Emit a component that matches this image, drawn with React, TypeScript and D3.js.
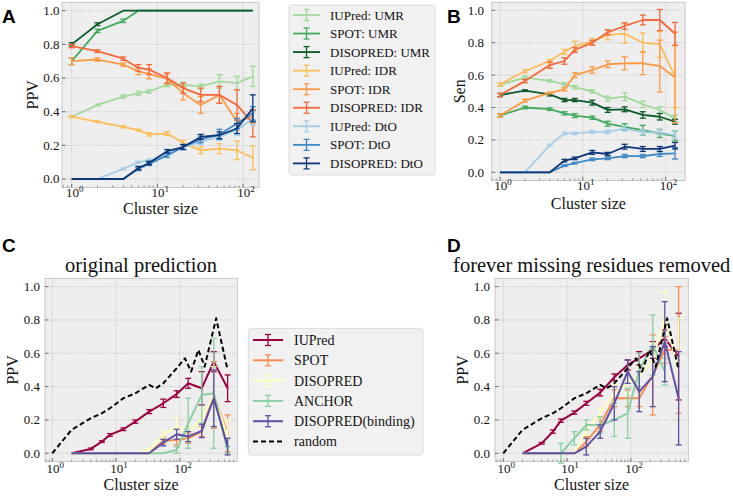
import React from 'react';
import * as d3 from 'd3';

// cluster sizes for panels A and B
const sizesAB = [1, 2, 4, 6, 8, 13, 20, 32, 53, 85, 130];

// panel A: PPV
const ppvIUPredUMR = [0.37, 0.44, 0.49, 0.51, 0.52, 0.56, 0.56, 0.55, 0.58, 0.57, 0.61];
const ppvIUPredUMRErr = [0.005, 0.005, 0.01, 0.012, 0.01, 0.012, 0.015, 0.015, 0.04, 0.04, 0.06];
const ppvSpotUMR = [0.70, 0.88, 0.94, 1, 1, 1, 1, 1, 1, 1, 1];
const ppvSpotUMRErr = [0.02, 0.01, 0.01, 0, 0, 0, 0, 0, 0, 0, 0];
const ppvDisoUMR = [0.80, 0.92, 1, 1, 1, 1, 1, 1, 1, 1, 1];
const ppvDisoUMRErr = [0.01, 0.008, 0, 0, 0, 0, 0, 0, 0, 0, 0];
const ppvIUPredIDR = [0.37, 0.34, 0.31, 0.29, 0.265, 0.27, 0.215, 0.17, 0.18, 0.17, 0.125];
const ppvIUPredIDRErr = [0.005, 0.005, 0.006, 0.006, 0.01, 0.012, 0.015, 0.02, 0.03, 0.055, 0.07];
const ppvSpotIDR = [0.70, 0.71, 0.68, 0.64, 0.625, 0.595, 0.51, 0.44, 0.50, 0.34, 0.37];
const ppvSpotIDRErr = [0.02, 0.01, 0.01, 0.02, 0.03, 0.03, 0.04, 0.05, 0.05, 0.05, 0.04];
const ppvDisoIDR = [0.79, 0.76, 0.715, 0.66, 0.65, 0.60, 0.54, 0.50, 0.50, 0.44, 0.33];
const ppvDisoIDRErr = [0.01, 0.008, 0.01, 0.02, 0.03, 0.03, 0.03, 0.04, 0.05, 0.09, 0.08];
const ppvIUPredDtO = [0, 0, 0.06, 0.10, 0.11, 0.15, 0.19, 0.22, 0.25, 0.29, 0.36];
const ppvIUPredDtOErr = [0, 0, 0.005, 0.005, 0.008, 0.01, 0.012, 0.015, 0.02, 0.03, 0.04];
const ppvSpotDtO = [0, 0, 0, 0.06, 0.09, 0.14, 0.19, 0.235, 0.265, 0.33, 0.39];
const ppvSpotDtOErr = [0, 0, 0, 0.01, 0.01, 0.012, 0.015, 0.02, 0.03, 0.03, 0.04];
const ppvDisoDtO = [0, 0, 0, 0.065, 0.095, 0.165, 0.19, 0.25, 0.26, 0.30, 0.42];
const ppvDisoDtOErr = [0, 0, 0, 0.01, 0.01, 0.01, 0.015, 0.015, 0.02, 0.03, 0.08];

// panel B: sensitivity
const senIUPredUMR = [0.54, 0.585, 0.565, 0.543, 0.525, 0.50, 0.455, 0.467, 0.42, 0.385, 0.333];
const senIUPredUMRErr = [0.01, 0.01, 0.008, 0.01, 0.012, 0.01, 0.015, 0.025, 0.02, 0.02, 0.02];
const senSpotUMR = [0.35, 0.40, 0.39, 0.364, 0.35, 0.337, 0.30, 0.28, 0.26, 0.24, 0.224];
const senSpotUMRErr = [0.01, 0.008, 0.008, 0.01, 0.012, 0.01, 0.015, 0.02, 0.03, 0.025, 0.03];
const senDisoUMR = [0.477, 0.504, 0.481, 0.446, 0.446, 0.43, 0.385, 0.389, 0.354, 0.343, 0.312];
const senDisoUMRErr = [0.01, 0.005, 0.01, 0.01, 0.01, 0.015, 0.015, 0.015, 0.02, 0.02, 0.015];
const senIUPredIDR = [0.543, 0.625, 0.687, 0.744, 0.78, 0.806, 0.848, 0.856, 0.80, 0.79, 0.59];
const senIUPredIDRErr = [0.01, 0.01, 0.01, 0.015, 0.03, 0.02, 0.03, 0.06, 0.06, 0.08, 0.19];
const senSpotIDR = [0.35, 0.442, 0.49, 0.512, 0.60, 0.631, 0.667, 0.673, 0.673, 0.656, 0.585];
const senSpotIDRErr = [0.01, 0.01, 0.005, 0.01, 0.015, 0.02, 0.02, 0.04, 0.07, 0.16, 0.28];
const senDisoIDR = [0.477, 0.563, 0.662, 0.687, 0.755, 0.80, 0.864, 0.903, 0.94, 0.94, 0.855];
const senDisoIDRErr = [0.01, 0.01, 0.02, 0.02, 0.015, 0.015, 0.015, 0.02, 0.03, 0.065, 0.07];
const senIUPredDtO = [0, 0, 0.168, 0.24, 0.24, 0.25, 0.25, 0.27, 0.247, 0.247, 0.23];
const senIUPredDtOErr = [0, 0, 0.005, 0.008, 0.008, 0.008, 0.01, 0.015, 0.015, 0.015, 0.02];
const senSpotDtO = [0, 0, 0, 0.041, 0.056, 0.08, 0.086, 0.10, 0.10, 0.113, 0.117];
const senSpotDtOErr = [0, 0, 0, 0.005, 0.005, 0.008, 0.008, 0.01, 0.01, 0.015, 0.035];
const senDisoDtO = [0, 0, 0, 0.072, 0.086, 0.123, 0.113, 0.158, 0.144, 0.144, 0.164];
const senDisoDtOErr = [0, 0, 0, 0.008, 0.008, 0.012, 0.01, 0.015, 0.015, 0.015, 0.02];

// cluster sizes for panels C and D
const sizesCD = [2, 4, 6, 8, 13, 20, 33, 55, 89, 135, 220, 340, 560];

// panel C: original prediction
const origIUPred = [0, 0.026, 0.07, 0.11, 0.144, 0.19, 0.25, 0.30, 0.355, 0.42, 0.39, 0.55, 0.39];
const origIUPredErr = [0, 0.005, 0.005, 0.008, 0.008, 0.01, 0.012, 0.025, 0.02, 0.03, 0.1, 0.06, 0.08];
const origSpot = [0, 0, 0, 0, 0, 0, 0, 0.075, 0.08, 0.09, 0.13, 0.35, 0.12];
const origSpotErr = [0, 0, 0, 0, 0, 0, 0, 0.02, 0.03, 0.03, 0.03, 0.2, 0.11];
const origDiso = [0, 0, 0, 0, 0, 0, 0.02, 0.11, 0.16, 0.12, 0.21, 0.35, 0.10];
const origDisoErr = [0, 0, 0, 0, 0, 0, 0.01, 0.02, 0.05, 0.04, 0.06, 0.17, 0.1];
const origAnchor = [0, 0, 0, 0, 0, 0, 0, 0, 0.02, 0.18, 0.35, 0.36, 0.02];
const origAnchorErr = [0, 0, 0, 0, 0, 0, 0, 0, 0.02, 0.15, 0.17, 0.33, 0.02];
const origBinding = [0, 0, 0, 0, 0, 0, 0, 0.064, 0.114, 0.10, 0.134, 0.33, 0.04];
const origBindingErr = [0, 0, 0, 0, 0, 0, 0, 0.02, 0.03, 0.03, 0.04, 0.17, 0.05];

// panel D: forever missing residues removed
const remIUPred = [0, 0.06, 0.13, 0.196, 0.244, 0.30, 0.364, 0.456, 0.53, 0.57, 0.62, 0.69, 0.58];
const remIUPredErr = [0, 0.005, 0.01, 0.01, 0.01, 0.012, 0.02, 0.02, 0.03, 0.04, 0.05, 0.05, 0.26];
const remSpot = [0, 0, 0, 0, 0, 0.07, 0.17, 0.33, 0.33, 0.33, 0.47, 0.62, 0.62];
const remSpotErr = [0, 0, 0, 0, 0, 0.03, 0.04, 0.05, 0.05, 0.05, 0.24, 0.08, 0.38];
const remDiso = [0, 0, 0, 0, 0, 0.14, 0.24, 0.36, 0.42, 0.46, 0.56, 0.82, 0.5];
const remDisoErr = [0, 0, 0, 0, 0, 0.03, 0.03, 0.05, 0.06, 0.06, 0.1, 0.15, 0.31];
const remAnchor = [0, 0, 0, 0, 0.09, 0.17, 0.17, 0.2, 0.24, 0.5, 0.65, 0.49, NaN];
const remAnchorErr = [0, 0, 0, 0.06, 0.04, 0.03, 0.05, 0.1, 0.15, 0.1, 0.18, 0.08, 0];
const remBinding = [0, 0, 0, 0, 0, 0.04, 0.13, 0.30, 0.49, 0.37, 0.46, 0.67, 0.33];
const remBindingErr = [0, 0, 0, 0, 0, 0.05, 0.04, 0.1, 0.07, 0.12, 0.18, 0.24, 0.28];

// random baseline (same in C and D)
const randomSizes = [1, 2, 4, 6, 8, 13, 20, 33, 42, 55, 89, 120, 150, 195, 245, 370, 560];
const randomPPV = [0, 0.14, 0.21, 0.24, 0.27, 0.33, 0.36, 0.41, 0.39, 0.42, 0.51, 0.57, 0.49, 0.62, 0.52, 0.81, 0.50];

const yTicks = [0, 0.2, 0.4, 0.6, 0.8, 1.0];

const serif = "'Liberation Serif', 'Times New Roman', serif";
const sans = "'Liberation Sans', Arial, sans-serif";

type Series = {
  name: string;
  color: string;
  x: number[];
  y: number[];
  err?: number[];
  dashed?: boolean;
};

const colors = {
  iupredUMR: '#a1d99b', spotUMR: '#41ab5d', disoUMR: '#0b5a2a',
  iupredIDR: '#fdbd58', spotIDR: '#fd9a46', disoIDR: '#f4683a',
  iupredDtO: '#a6cde6', spotDtO: '#3d88c6', disoDtO: '#0c3676',
};
const spectral = ['#9e0142', '#f88d52', '#ffffbe', '#89d0a4', '#5e4fa2'];

const seriesA: Series[] = [
  { name: 'IUPred: UMR', color: colors.iupredUMR, x: sizesAB, y: ppvIUPredUMR, err: ppvIUPredUMRErr },
  { name: 'SPOT: UMR', color: colors.spotUMR, x: sizesAB, y: ppvSpotUMR, err: ppvSpotUMRErr },
  { name: 'DISOPRED: UMR', color: colors.disoUMR, x: sizesAB, y: ppvDisoUMR, err: ppvDisoUMRErr },
  { name: 'IUPred: IDR', color: colors.iupredIDR, x: sizesAB, y: ppvIUPredIDR, err: ppvIUPredIDRErr },
  { name: 'SPOT: IDR', color: colors.spotIDR, x: sizesAB, y: ppvSpotIDR, err: ppvSpotIDRErr },
  { name: 'DISOPRED: IDR', color: colors.disoIDR, x: sizesAB, y: ppvDisoIDR, err: ppvDisoIDRErr },
  { name: 'IUPred: DtO', color: colors.iupredDtO, x: sizesAB, y: ppvIUPredDtO, err: ppvIUPredDtOErr },
  { name: 'SPOT: DtO', color: colors.spotDtO, x: sizesAB, y: ppvSpotDtO, err: ppvSpotDtOErr },
  { name: 'DISOPRED: DtO', color: colors.disoDtO, x: sizesAB, y: ppvDisoDtO, err: ppvDisoDtOErr },
];

const seriesB: Series[] = [
  { name: 'IUPred: UMR', color: colors.iupredUMR, x: sizesAB, y: senIUPredUMR, err: senIUPredUMRErr },
  { name: 'SPOT: UMR', color: colors.spotUMR, x: sizesAB, y: senSpotUMR, err: senSpotUMRErr },
  { name: 'DISOPRED: UMR', color: colors.disoUMR, x: sizesAB, y: senDisoUMR, err: senDisoUMRErr },
  { name: 'IUPred: IDR', color: colors.iupredIDR, x: sizesAB, y: senIUPredIDR, err: senIUPredIDRErr },
  { name: 'SPOT: IDR', color: colors.spotIDR, x: sizesAB, y: senSpotIDR, err: senSpotIDRErr },
  { name: 'DISOPRED: IDR', color: colors.disoIDR, x: sizesAB, y: senDisoIDR, err: senDisoIDRErr },
  { name: 'IUPred: DtO', color: colors.iupredDtO, x: sizesAB, y: senIUPredDtO, err: senIUPredDtOErr },
  { name: 'SPOT: DtO', color: colors.spotDtO, x: sizesAB, y: senSpotDtO, err: senSpotDtOErr },
  { name: 'DISOPRED: DtO', color: colors.disoDtO, x: sizesAB, y: senDisoDtO, err: senDisoDtOErr },
];

const seriesC: Series[] = [
  { name: 'IUPred', color: spectral[0], x: sizesCD, y: origIUPred, err: origIUPredErr },
  { name: 'SPOT', color: spectral[1], x: sizesCD, y: origSpot, err: origSpotErr },
  { name: 'DISOPRED', color: spectral[2], x: sizesCD, y: origDiso, err: origDisoErr },
  { name: 'ANCHOR', color: spectral[3], x: sizesCD, y: origAnchor, err: origAnchorErr },
  { name: 'DISOPRED(binding)', color: spectral[4], x: sizesCD, y: origBinding, err: origBindingErr },
  { name: 'random', color: '#000', x: randomSizes, y: randomPPV, dashed: true },
];

const seriesD: Series[] = [
  { name: 'IUPred', color: spectral[0], x: sizesCD, y: remIUPred, err: remIUPredErr },
  { name: 'SPOT', color: spectral[1], x: sizesCD, y: remSpot, err: remSpotErr },
  { name: 'DISOPRED', color: spectral[2], x: sizesCD, y: remDiso, err: remDisoErr },
  { name: 'ANCHOR', color: spectral[3], x: sizesCD, y: remAnchor, err: remAnchorErr },
  { name: 'DISOPRED(binding)', color: spectral[4], x: sizesCD, y: remBinding, err: remBindingErr },
  { name: 'random', color: '#000', x: randomSizes, y: randomPPV, dashed: true },
];

type PanelProps = {
  l: number; r: number; t: number; b: number;
  xExp: [number, number];
  series: Series[];
  yLabel: string;
  yLabelX: number;
  tickEnd: number;
  xTickBase: number;
  xLabelBase: number;
  lineW: number;
  title?: string;
  titleX?: number;
  titleY?: number;
};

const Panel = (p: PanelProps) => {
  const x = d3.scaleLog().domain([10 ** p.xExp[0], 10 ** p.xExp[1]]).range([p.l, p.r]);
  const y = d3.scaleLinear().domain([-0.05, 1.05]).range([p.b, p.t]);
  const [d0, d1] = x.domain();
  const majors = [1, 10, 100, 1000].filter(v => v >= d0 && v <= d1);
  const minors: number[] = [];
  for (let e = -1; e <= 3; e++) {
    for (let m = 2; m <= 9; m++) {
      const v = m * 10 ** e;
      if (v >= d0 && v <= d1) minors.push(v);
    }
  }
  const line = d3.line<[number, number]>()
    .defined(d => !isNaN(d[1]))
    .x(d => x(d[0]))
    .y(d => y(d[1]));
  const midY = (p.t + p.b) / 2;

  return (
    <g>
      <rect x={p.l} y={p.t} width={p.r - p.l} height={p.b - p.t} fill="#eeeeee" />
      {majors.map(v => (
        <line key={'gx' + v} x1={x(v)} x2={x(v)} y1={p.t} y2={p.b} stroke="#b5b5b5" strokeWidth={0.7} strokeDasharray="1.2,1.4" />
      ))}
      {yTicks.map(v => (
        <line key={'gy' + v} x1={p.l} x2={p.r} y1={y(v)} y2={y(v)} stroke="#b5b5b5" strokeWidth={0.7} strokeDasharray="1.2,1.4" />
      ))}
      {p.series.map(s => {
        const pts = s.x.map((xv, i) => [xv, s.y[i]] as [number, number]);
        return (
          <g key={s.name}>
            <path d={line(pts) || ''} fill="none" stroke={s.color} strokeWidth={p.lineW}
              strokeDasharray={s.dashed ? '5,3' : undefined} strokeLinejoin="round" />
            {s.err && pts.map((d, i) => {
              const e = s.err![i];
              if (!e || isNaN(d[1])) return null;
              const cx = x(d[0]);
              return (
                <g key={i} stroke={s.color} strokeWidth={1.3}>
                  <line x1={cx} x2={cx} y1={y(d[1] - e)} y2={y(d[1] + e)} />
                  <line x1={cx - 3} x2={cx + 3} y1={y(d[1] - e)} y2={y(d[1] - e)} />
                  <line x1={cx - 3} x2={cx + 3} y1={y(d[1] + e)} y2={y(d[1] + e)} />
                </g>
              );
            })}
          </g>
        );
      })}
      <rect x={p.l} y={p.t} width={p.r - p.l} height={p.b - p.t} fill="none" stroke="#bcbcbc" strokeWidth={0.8} />
      {majors.map(v => (
        <line key={'tx' + v} x1={x(v)} x2={x(v)} y1={p.b} y2={p.b - 3.5} stroke="#555" strokeWidth={0.8} />
      ))}
      {minors.map(v => (
        <line key={'mx' + v} x1={x(v)} x2={x(v)} y1={p.b} y2={p.b - 2} stroke="#555" strokeWidth={0.6} />
      ))}
      {yTicks.map(v => (
        <line key={'ty' + v} x1={p.l} x2={p.l + 3.5} y1={y(v)} y2={y(v)} stroke="#555" strokeWidth={0.8} />
      ))}
      {yTicks.map(v => (
        <text key={'ly' + v} x={p.tickEnd} y={y(v)} dy="0.34em" textAnchor="end" fontFamily={serif} fontSize={13} fill="#111">
          {d3.format('.1f')(v)}
        </text>
      ))}
      {majors.map(v => (
        <text key={'lx' + v} x={x(v) + 3} y={p.xTickBase} textAnchor="middle" fontFamily={serif} fontSize={13} fill="#111">
          10<tspan dy={-5} fontSize={9}>{Math.round(Math.log10(v))}</tspan>
        </text>
      ))}
      <text x={(p.l + p.r) / 2} y={p.xLabelBase} textAnchor="middle" fontFamily={serif} fontSize={16} fill="#111">
        Cluster size
      </text>
      <text transform={`translate(${p.yLabelX},${midY}) rotate(-90)`} textAnchor="middle" fontFamily={serif} fontSize={16} fill="#111">
        {p.yLabel}
      </text>
      {p.title && (
        <text x={p.titleX} y={p.titleY} textAnchor="middle" fontFamily={serif} fontSize={20.5} fill="#111">
          {p.title}
        </text>
      )}
    </g>
  );
};

type LegendProps = {
  x: number; y: number; w: number; h: number;
  series: Series[];
  row0: number; rowGap: number;
  h0: number; h1: number; textX: number;
  fontSize: number; lineW: number;
};

const Legend = (p: LegendProps) => (
  <g>
    <rect x={p.x} y={p.y} width={p.w} height={p.h} rx={3} fill="#f1f1f1" stroke="#d3d3d3" strokeWidth={0.8} />
    {p.series.map((s, i) => {
      const cy = p.row0 + i * p.rowGap;
      const cx = (p.h0 + p.h1) / 2;
      return (
        <g key={s.name}>
          <line x1={p.h0} x2={p.h1} y1={cy} y2={cy} stroke={s.color} strokeWidth={p.lineW}
            strokeDasharray={s.dashed ? '5,3' : undefined} />
          {!s.dashed && (
            <g stroke={s.color} strokeWidth={1.3}>
              <line x1={cx} x2={cx} y1={cy - 5.5} y2={cy + 5.5} />
              <line x1={cx - 3} x2={cx + 3} y1={cy - 5.5} y2={cy - 5.5} />
              <line x1={cx - 3} x2={cx + 3} y1={cy + 5.5} y2={cy + 5.5} />
            </g>
          )}
          <text x={p.textX} y={cy} dy="0.35em" fontFamily={serif} fontSize={p.fontSize} fill="#111">{s.name}</text>
        </g>
      );
    })}
  </g>
);

const PanelLetter = ({ x, y, t }: { x: number; y: number; t: string }) => (
  <text x={x} y={y} fontFamily={sans} fontWeight="bold" fontSize={19} fill="#000">{t}</text>
);

export default function App() {
  return (
    <svg width={733} height={496} style={{ position: 'absolute', left: 0, top: 0, background: '#fff' }}>
      <Panel l={62} r={259} t={2.3} b={187.4} xExp={[-0.113, 2.186]} series={seriesA}
        yLabel="PPV" yLabelX={37.5} tickEnd={59.5} xTickBase={197} xLabelBase={214} lineW={1.8} />
      <Legend x={289} y={5} w={146} h={170} series={seriesA} row0={15} rowGap={18.55}
        h0={293} h1={320} textX={330} fontSize={13} lineW={1.8} />
      <Panel l={491.7} r={685} t={2.2} b={180.4} xExp={[-0.1, 2.234]} series={seriesB}
        yLabel="Sen" yLabelX={465} tickEnd={484} xTickBase={190} xLabelBase={208.5} lineW={1.8} />
      <Panel l={45} r={237.3} t={278.3} b={461.6} xExp={[-0.114, 2.9]} series={seriesC}
        yLabel="PPV" yLabelX={17.5} tickEnd={40} xTickBase={473} xLabelBase={489.5} lineW={2}
        title="original prediction" titleX={141} titleY={271.5} />
      <Legend x={248.3} y={328.3} w={174.7} h={126.7} series={seriesC} row0={340} rowGap={20.3}
        h0={253} h1={283} textX={294} fontSize={14} lineW={2} />
      <Panel l={495} r={688.3} t={278.3} b={461.6} xExp={[-0.13, 2.9]} series={seriesD}
        yLabel="PPV" yLabelX={467.5} tickEnd={490} xTickBase={473} xLabelBase={489.5} lineW={2}
        title="forever missing residues removed" titleX={591.7} titleY={271.5} />
      <PanelLetter x={2} y={23} t="A" />
      <PanelLetter x={447} y={23} t="B" />
      <PanelLetter x={2} y={252} t="C" />
      <PanelLetter x={447} y={252} t="D" />
    </svg>
  );
}
